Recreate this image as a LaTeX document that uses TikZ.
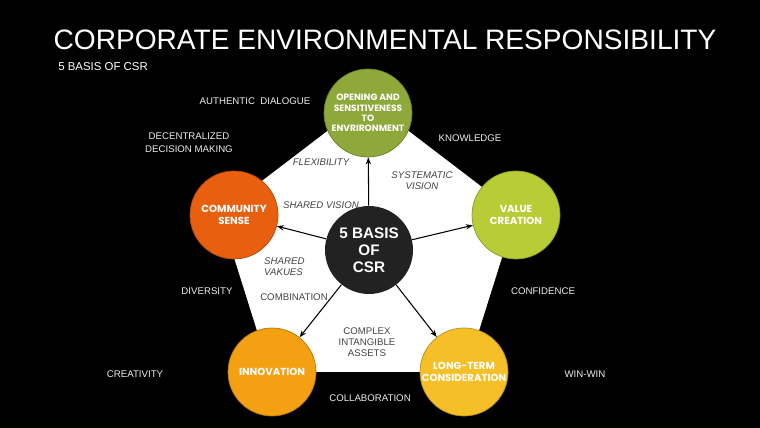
\documentclass[tikz,border=0pt]{standalone}
\usepackage{fontspec}
\setmainfont{Liberation Sans}
\newfontfamily\circfont{Poppins}
\usepackage{tikz}
\definecolor{bgblack}{HTML}{000000}
\definecolor{olivegreen}{HTML}{8FA83A}
\definecolor{burntorange}{HTML}{E8600F}
\definecolor{limegreen}{HTML}{B7CC35}
\definecolor{deeporange}{HTML}{F3A012}
\definecolor{goldyellow}{HTML}{F5BF27}
\definecolor{coredark}{HTML}{222222}
\definecolor{labelgray}{HTML}{444444}
\definecolor{labelwhite}{HTML}{EEEEEE}
\usetikzlibrary{arrows.meta}

\begin{document}
\begin{tikzpicture}[
          x=0.02cm, y=-0.02cm,
          basis/.style = {circle, minimum size=1.76cm, inner sep=0pt,
                          align=center, text=white, line width=0.4pt,
                          font=\circfont\bfseries\fontsize{5.8}{6.6}\selectfont},
          core/.style = {circle, minimum size=1.76cm, inner sep=0pt,
                         align=center, text=white, fill=coredark,
                         font=\bfseries\fontsize{8.7}{9.6}\selectfont},
          inlabel/.style = {text=labelgray, align=center,
                            font=\itshape\fontsize{5.5}{6.4}\selectfont},
          plainlabel/.style = {text=labelgray, align=center,
                               font=\fontsize{5.5}{6.2}\selectfont},
          outlabel/.style = {text=labelwhite, align=center,
                             font=\fontsize{5.5}{7.4}\selectfont},
          arr/.style = {-{Stealth[length=4pt, width=3pt]}, line width=0.6pt},
        ]
        %% Background
        \fill[bgblack] (0,0) rectangle (760,428);
        \useasboundingbox (0,0) rectangle (760,428);

        %% Title
        \node (title) at (385,40) {\fontsize{16}{18}\selectfont\color{white}CORPORATE ENVIRONMENTAL RESPONSIBILITY};
        \node[anchor=west, inner sep=0pt] (subtitle) at (58,67) {\fontsize{6.5}{7}\selectfont\color{white}5 BASIS OF CSR};

        %% Pentagon
        \fill[white] (368,100) -- (516,213) -- (466,372) -- (270,372) -- (220,213) -- cycle;

        %% Nodes
        \node[core] (C) at (369,250) {5 BASIS\\OF\\CSR};
        \node[basis, fill=olivegreen, draw=olivegreen!75!black,
              font=\circfont\bfseries\fontsize{5.2}{5.8}\selectfont] (O) at (368,113) {OPENING AND\\SENSITIVENESS\\TO\\ENVRIRONMENT};
        \node[basis, fill=burntorange, draw=burntorange!75!black] (S) at (234,215) {COMMUNITY\\SENSE};
        \node[basis, fill=limegreen, draw=limegreen!75!black] (V) at (516,215) {VALUE\\CREATION};
        \node[basis, fill=deeporange, draw=deeporange!75!black] (I) at (272,372) {INNOVATION};
        \node[basis, fill=goldyellow, draw=goldyellow!75!black] (L) at (464,372) {LONG-TERM\\CONSIDERATION};

        %% Arrows
        \draw[arr] (C) -- (O);
        \draw[arr] (C) -- (S);
        \draw[arr] (C) -- (V);
        \draw[arr] (C) -- (I);
        \draw[arr] (C) -- (L);

        %% Inner labels
        \node[inlabel] (flex) at (321,162) {FLEXIBILITY};
        \node[inlabel] (sysv) at (422,181) {SYSTEMATIC\\VISION};
        \node[inlabel] (shv) at (321,205) {SHARED VISION};
        \node[inlabel, anchor=west, align=left] (shval) at (258,267) {SHARED\\VAKUES};
        \node[plainlabel] (comb) at (294,297) {COMBINATION};
        \node[plainlabel] (cia) at (367,342) {COMPLEX\\INTANGIBLE\\ASSETS};

        %% Outer labels
        \node[outlabel] (auth) at (255,101) {AUTHENTIC\ \ DIALOGUE};
        \node[outlabel] (decdm) at (189,143) {DECENTRALIZED\\DECISION MAKING};
        \node[outlabel] (know) at (470,138) {KNOWLEDGE};
        \node[outlabel] (div) at (207,291) {DIVERSITY};
        \node[outlabel] (conf) at (543,291) {CONFIDENCE};
        \node[outlabel] (crea) at (135,374) {CREATIVITY};
        \node[outlabel] (win) at (585,374) {WIN-WIN};
        \node[outlabel] (coll) at (370,398) {COLLABORATION};
      \end{tikzpicture}
\end{document}
